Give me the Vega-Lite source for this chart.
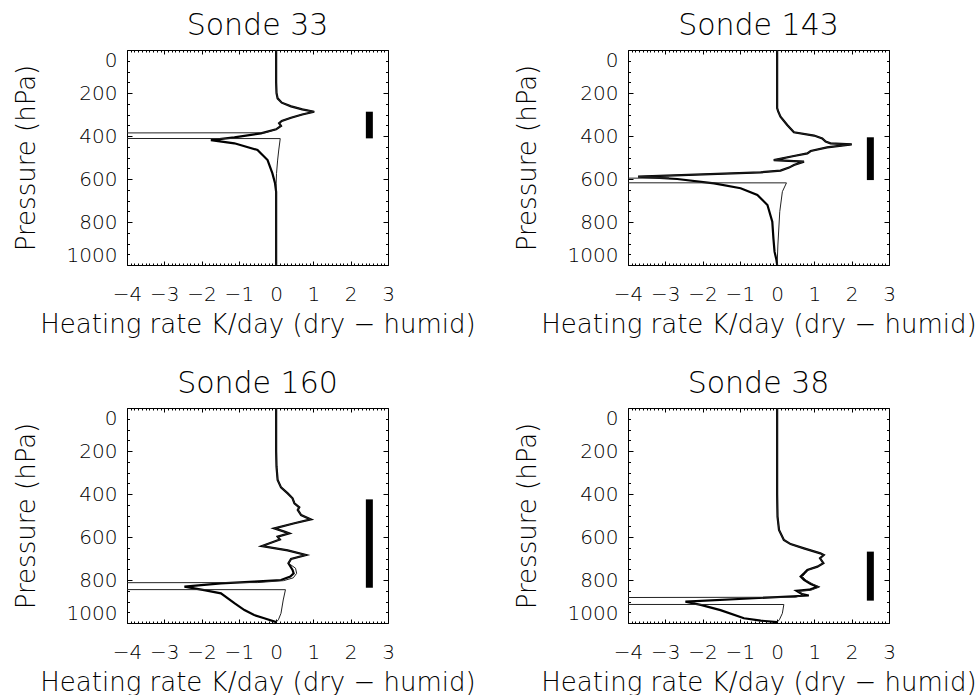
{
  "$schema": "https://vega.github.io/schema/vega-lite/v6.json",
  "background": "white",
  "padding": {"left": 12, "top": 10, "right": 5, "bottom": 2},
  "datasets": {
    "profiles": [
      {"sonde": 33, "kind": "thick", "hr": 0, "p": 0},
      {"sonde": 33, "kind": "thick", "hr": 0, "p": 150},
      {"sonde": 33, "kind": "thick", "hr": 0.01, "p": 200},
      {"sonde": 33, "kind": "thick", "hr": 0.04, "p": 225},
      {"sonde": 33, "kind": "thick", "hr": 0.15, "p": 245},
      {"sonde": 33, "kind": "thick", "hr": 0.4, "p": 262},
      {"sonde": 33, "kind": "thick", "hr": 0.7, "p": 276},
      {"sonde": 33, "kind": "thick", "hr": 1.02, "p": 287},
      {"sonde": 33, "kind": "thick", "hr": 0.7, "p": 300},
      {"sonde": 33, "kind": "thick", "hr": 0.4, "p": 315},
      {"sonde": 33, "kind": "thick", "hr": 0.15, "p": 330},
      {"sonde": 33, "kind": "thick", "hr": 0.08, "p": 340},
      {"sonde": 33, "kind": "thick", "hr": 0.13, "p": 353},
      {"sonde": 33, "kind": "thick", "hr": 0.0, "p": 369},
      {"sonde": 33, "kind": "thick", "hr": -0.41, "p": 388},
      {"sonde": 33, "kind": "thick", "hr": -1.12, "p": 406},
      {"sonde": 33, "kind": "thick", "hr": -1.75, "p": 419},
      {"sonde": 33, "kind": "thick", "hr": -1.12, "p": 434},
      {"sonde": 33, "kind": "thick", "hr": -0.5, "p": 465},
      {"sonde": 33, "kind": "thick", "hr": -0.23, "p": 512},
      {"sonde": 33, "kind": "thick", "hr": -0.1, "p": 574},
      {"sonde": 33, "kind": "thick", "hr": -0.03, "p": 620},
      {"sonde": 33, "kind": "thick", "hr": 0, "p": 660},
      {"sonde": 33, "kind": "thick", "hr": 0, "p": 1000},

      {"sonde": 33, "kind": "thin", "hr": 0, "p": 0},
      {"sonde": 33, "kind": "thin", "hr": 0, "p": 150},
      {"sonde": 33, "kind": "thin", "hr": 0.01, "p": 200},
      {"sonde": 33, "kind": "thin", "hr": 0.04, "p": 225},
      {"sonde": 33, "kind": "thin", "hr": 0.15, "p": 245},
      {"sonde": 33, "kind": "thin", "hr": 0.4, "p": 262},
      {"sonde": 33, "kind": "thin", "hr": 0.7, "p": 276},
      {"sonde": 33, "kind": "thin", "hr": 1.02, "p": 287},
      {"sonde": 33, "kind": "thin", "hr": 0.7, "p": 300},
      {"sonde": 33, "kind": "thin", "hr": 0.4, "p": 315},
      {"sonde": 33, "kind": "thin", "hr": 0.15, "p": 330},
      {"sonde": 33, "kind": "thin", "hr": 0.08, "p": 340},
      {"sonde": 33, "kind": "thin", "hr": 0.13, "p": 353},
      {"sonde": 33, "kind": "thin", "hr": 0.0, "p": 369},
      {"sonde": 33, "kind": "thin", "hr": -0.3, "p": 385},
      {"sonde": 33, "kind": "thin", "hr": -40, "p": 392},
      {"sonde": 33, "kind": "thin", "hr": -40, "p": 408},
      {"sonde": 33, "kind": "thin", "hr": 0.11, "p": 412},
      {"sonde": 33, "kind": "thin", "hr": 0.07, "p": 465},
      {"sonde": 33, "kind": "thin", "hr": 0.04, "p": 512},
      {"sonde": 33, "kind": "thin", "hr": 0.01, "p": 574},
      {"sonde": 33, "kind": "thin", "hr": 0, "p": 620},
      {"sonde": 33, "kind": "thin", "hr": 0, "p": 1000},

      {"sonde": 143, "kind": "thick", "hr": 0, "p": 0},
      {"sonde": 143, "kind": "thick", "hr": 0, "p": 270},
      {"sonde": 143, "kind": "thick", "hr": 0.03, "p": 287},
      {"sonde": 143, "kind": "thick", "hr": 0.09, "p": 310},
      {"sonde": 143, "kind": "thick", "hr": 0.27, "p": 349},
      {"sonde": 143, "kind": "thick", "hr": 0.45, "p": 383},
      {"sonde": 143, "kind": "thick", "hr": 0.99, "p": 398},
      {"sonde": 143, "kind": "thick", "hr": 1.21, "p": 411},
      {"sonde": 143, "kind": "thick", "hr": 1.3, "p": 426},
      {"sonde": 143, "kind": "thick", "hr": 1.43, "p": 434},
      {"sonde": 143, "kind": "thick", "hr": 2.0, "p": 439},
      {"sonde": 143, "kind": "thick", "hr": 1.34, "p": 453},
      {"sonde": 143, "kind": "thick", "hr": 0.9, "p": 470},
      {"sonde": 143, "kind": "thick", "hr": 0.81, "p": 481},
      {"sonde": 143, "kind": "thick", "hr": 0.45, "p": 493},
      {"sonde": 143, "kind": "thick", "hr": -0.09, "p": 512},
      {"sonde": 143, "kind": "thick", "hr": 0.72, "p": 519},
      {"sonde": 143, "kind": "thick", "hr": 0.45, "p": 535},
      {"sonde": 143, "kind": "thick", "hr": 0.32, "p": 547},
      {"sonde": 143, "kind": "thick", "hr": 0.09, "p": 561},
      {"sonde": 143, "kind": "thick", "hr": -0.44, "p": 569},
      {"sonde": 143, "kind": "thick", "hr": -3.73, "p": 589},
      {"sonde": 143, "kind": "thick", "hr": -2.68, "p": 600},
      {"sonde": 143, "kind": "thick", "hr": -1.69, "p": 620},
      {"sonde": 143, "kind": "thick", "hr": -0.98, "p": 643},
      {"sonde": 143, "kind": "thick", "hr": -0.53, "p": 674},
      {"sonde": 143, "kind": "thick", "hr": -0.26, "p": 721},
      {"sonde": 143, "kind": "thick", "hr": -0.13, "p": 798},
      {"sonde": 143, "kind": "thick", "hr": -0.1, "p": 876},
      {"sonde": 143, "kind": "thick", "hr": -0.07, "p": 938},
      {"sonde": 143, "kind": "thick", "hr": -0.02, "p": 975},
      {"sonde": 143, "kind": "thick", "hr": 0, "p": 1000},

      {"sonde": 143, "kind": "thin", "hr": 0, "p": 0},
      {"sonde": 143, "kind": "thin", "hr": 0, "p": 270},
      {"sonde": 143, "kind": "thin", "hr": 0.03, "p": 287},
      {"sonde": 143, "kind": "thin", "hr": 0.09, "p": 310},
      {"sonde": 143, "kind": "thin", "hr": 0.27, "p": 349},
      {"sonde": 143, "kind": "thin", "hr": 0.45, "p": 383},
      {"sonde": 143, "kind": "thin", "hr": 0.99, "p": 398},
      {"sonde": 143, "kind": "thin", "hr": 1.21, "p": 411},
      {"sonde": 143, "kind": "thin", "hr": 1.3, "p": 426},
      {"sonde": 143, "kind": "thin", "hr": 1.43, "p": 434},
      {"sonde": 143, "kind": "thin", "hr": 2.0, "p": 439},
      {"sonde": 143, "kind": "thin", "hr": 1.34, "p": 453},
      {"sonde": 143, "kind": "thin", "hr": 0.9, "p": 470},
      {"sonde": 143, "kind": "thin", "hr": 0.81, "p": 481},
      {"sonde": 143, "kind": "thin", "hr": 0.45, "p": 493},
      {"sonde": 143, "kind": "thin", "hr": -0.09, "p": 512},
      {"sonde": 143, "kind": "thin", "hr": 0.72, "p": 519},
      {"sonde": 143, "kind": "thin", "hr": 0.45, "p": 535},
      {"sonde": 143, "kind": "thin", "hr": 0.32, "p": 547},
      {"sonde": 143, "kind": "thin", "hr": 0.09, "p": 561},
      {"sonde": 143, "kind": "thin", "hr": -0.44, "p": 569},
      {"sonde": 143, "kind": "thin", "hr": -3.73, "p": 589},
      {"sonde": 143, "kind": "thin", "hr": -2.9, "p": 596},
      {"sonde": 143, "kind": "thin", "hr": -40, "p": 598},
      {"sonde": 143, "kind": "thin", "hr": -40, "p": 615},
      {"sonde": 143, "kind": "thin", "hr": 0.25, "p": 618},
      {"sonde": 143, "kind": "thin", "hr": 0.14, "p": 659},
      {"sonde": 143, "kind": "thin", "hr": 0.07, "p": 752},
      {"sonde": 143, "kind": "thin", "hr": 0.02, "p": 907},
      {"sonde": 143, "kind": "thin", "hr": 0, "p": 1000},

      {"sonde": 160, "kind": "thick", "hr": 0, "p": 0},
      {"sonde": 160, "kind": "thick", "hr": 0, "p": 200},
      {"sonde": 160, "kind": "thick", "hr": 0.01, "p": 273},
      {"sonde": 160, "kind": "thick", "hr": 0.04, "p": 335},
      {"sonde": 160, "kind": "thick", "hr": 0.13, "p": 369},
      {"sonde": 160, "kind": "thick", "hr": 0.31, "p": 397},
      {"sonde": 160, "kind": "thick", "hr": 0.44, "p": 420},
      {"sonde": 160, "kind": "thick", "hr": 0.49, "p": 443},
      {"sonde": 160, "kind": "thick", "hr": 0.62, "p": 462},
      {"sonde": 160, "kind": "thick", "hr": 0.58, "p": 474},
      {"sonde": 160, "kind": "thick", "hr": 0.67, "p": 498},
      {"sonde": 160, "kind": "thick", "hr": 0.93, "p": 518},
      {"sonde": 160, "kind": "thick", "hr": 0.49, "p": 536},
      {"sonde": 160, "kind": "thick", "hr": -0.05, "p": 560},
      {"sonde": 160, "kind": "thick", "hr": 0.22, "p": 575},
      {"sonde": 160, "kind": "thick", "hr": 0.35, "p": 583},
      {"sonde": 160, "kind": "thick", "hr": 0.04, "p": 598},
      {"sonde": 160, "kind": "thick", "hr": 0.1, "p": 612},
      {"sonde": 160, "kind": "thick", "hr": -0.38, "p": 642},
      {"sonde": 160, "kind": "thick", "hr": 0.31, "p": 662},
      {"sonde": 160, "kind": "thick", "hr": 0.8, "p": 684},
      {"sonde": 160, "kind": "thick", "hr": 0.4, "p": 702},
      {"sonde": 160, "kind": "thick", "hr": 0.33, "p": 722},
      {"sonde": 160, "kind": "thick", "hr": 0.44, "p": 753},
      {"sonde": 160, "kind": "thick", "hr": 0.47, "p": 769},
      {"sonde": 160, "kind": "thick", "hr": 0.38, "p": 784},
      {"sonde": 160, "kind": "thick", "hr": 0.13, "p": 800},
      {"sonde": 160, "kind": "thick", "hr": -0.59, "p": 808},
      {"sonde": 160, "kind": "thick", "hr": -1.48, "p": 816},
      {"sonde": 160, "kind": "thick", "hr": -2.46, "p": 831},
      {"sonde": 160, "kind": "thick", "hr": -1.93, "p": 847},
      {"sonde": 160, "kind": "thick", "hr": -1.48, "p": 862},
      {"sonde": 160, "kind": "thick", "hr": -1.12, "p": 908},
      {"sonde": 160, "kind": "thick", "hr": -0.85, "p": 940},
      {"sonde": 160, "kind": "thick", "hr": -0.59, "p": 963},
      {"sonde": 160, "kind": "thick", "hr": -0.32, "p": 978},
      {"sonde": 160, "kind": "thick", "hr": 0, "p": 996},

      {"sonde": 160, "kind": "thin", "hr": 0, "p": 0},
      {"sonde": 160, "kind": "thin", "hr": 0, "p": 200},
      {"sonde": 160, "kind": "thin", "hr": 0.01, "p": 273},
      {"sonde": 160, "kind": "thin", "hr": 0.04, "p": 335},
      {"sonde": 160, "kind": "thin", "hr": 0.13, "p": 369},
      {"sonde": 160, "kind": "thin", "hr": 0.31, "p": 397},
      {"sonde": 160, "kind": "thin", "hr": 0.44, "p": 420},
      {"sonde": 160, "kind": "thin", "hr": 0.49, "p": 443},
      {"sonde": 160, "kind": "thin", "hr": 0.62, "p": 462},
      {"sonde": 160, "kind": "thin", "hr": 0.58, "p": 474},
      {"sonde": 160, "kind": "thin", "hr": 0.67, "p": 498},
      {"sonde": 160, "kind": "thin", "hr": 0.93, "p": 518},
      {"sonde": 160, "kind": "thin", "hr": 0.49, "p": 536},
      {"sonde": 160, "kind": "thin", "hr": -0.05, "p": 560},
      {"sonde": 160, "kind": "thin", "hr": 0.22, "p": 575},
      {"sonde": 160, "kind": "thin", "hr": 0.35, "p": 583},
      {"sonde": 160, "kind": "thin", "hr": 0.04, "p": 598},
      {"sonde": 160, "kind": "thin", "hr": 0.1, "p": 612},
      {"sonde": 160, "kind": "thin", "hr": -0.38, "p": 642},
      {"sonde": 160, "kind": "thin", "hr": 0.31, "p": 662},
      {"sonde": 160, "kind": "thin", "hr": 0.8, "p": 684},
      {"sonde": 160, "kind": "thin", "hr": 0.4, "p": 702},
      {"sonde": 160, "kind": "thin", "hr": 0.33, "p": 722},
      {"sonde": 160, "kind": "thin", "hr": 0.52, "p": 745},
      {"sonde": 160, "kind": "thin", "hr": 0.55, "p": 769},
      {"sonde": 160, "kind": "thin", "hr": 0.46, "p": 790},
      {"sonde": 160, "kind": "thin", "hr": 0.2, "p": 803},
      {"sonde": 160, "kind": "thin", "hr": -0.5, "p": 812},
      {"sonde": 160, "kind": "thin", "hr": -40, "p": 818},
      {"sonde": 160, "kind": "thin", "hr": -40, "p": 842},
      {"sonde": 160, "kind": "thin", "hr": 0.25, "p": 845},
      {"sonde": 160, "kind": "thin", "hr": 0.19, "p": 893},
      {"sonde": 160, "kind": "thin", "hr": 0.13, "p": 955},
      {"sonde": 160, "kind": "thin", "hr": 0.06, "p": 985},
      {"sonde": 160, "kind": "thin", "hr": 0, "p": 996},

      {"sonde": 38, "kind": "thick", "hr": 0, "p": 0},
      {"sonde": 38, "kind": "thick", "hr": 0, "p": 400},
      {"sonde": 38, "kind": "thick", "hr": 0.01, "p": 505},
      {"sonde": 38, "kind": "thick", "hr": 0.05, "p": 567},
      {"sonde": 38, "kind": "thick", "hr": 0.18, "p": 614},
      {"sonde": 38, "kind": "thick", "hr": 0.36, "p": 633},
      {"sonde": 38, "kind": "thick", "hr": 0.72, "p": 653},
      {"sonde": 38, "kind": "thick", "hr": 1.16, "p": 676},
      {"sonde": 38, "kind": "thick", "hr": 1.25, "p": 684},
      {"sonde": 38, "kind": "thick", "hr": 1.15, "p": 699},
      {"sonde": 38, "kind": "thick", "hr": 1.24, "p": 722},
      {"sonde": 38, "kind": "thick", "hr": 1.08, "p": 738},
      {"sonde": 38, "kind": "thick", "hr": 0.81, "p": 753},
      {"sonde": 38, "kind": "thick", "hr": 0.72, "p": 769},
      {"sonde": 38, "kind": "thick", "hr": 0.63, "p": 784},
      {"sonde": 38, "kind": "thick", "hr": 0.72, "p": 800},
      {"sonde": 38, "kind": "thick", "hr": 0.9, "p": 819},
      {"sonde": 38, "kind": "thick", "hr": 1.08, "p": 831},
      {"sonde": 38, "kind": "thick", "hr": 0.86, "p": 845},
      {"sonde": 38, "kind": "thick", "hr": 0.52, "p": 850},
      {"sonde": 38, "kind": "thick", "hr": 0.67, "p": 866},
      {"sonde": 38, "kind": "thick", "hr": 0.85, "p": 872},
      {"sonde": 38, "kind": "thick", "hr": -2.46, "p": 901},
      {"sonde": 38, "kind": "thick", "hr": -2.05, "p": 916},
      {"sonde": 38, "kind": "thick", "hr": -1.52, "p": 940},
      {"sonde": 38, "kind": "thick", "hr": -0.89, "p": 978},
      {"sonde": 38, "kind": "thick", "hr": -0.44, "p": 989},
      {"sonde": 38, "kind": "thick", "hr": 0, "p": 996},

      {"sonde": 38, "kind": "thin", "hr": 0, "p": 0},
      {"sonde": 38, "kind": "thin", "hr": 0, "p": 400},
      {"sonde": 38, "kind": "thin", "hr": 0.01, "p": 505},
      {"sonde": 38, "kind": "thin", "hr": 0.05, "p": 567},
      {"sonde": 38, "kind": "thin", "hr": 0.18, "p": 614},
      {"sonde": 38, "kind": "thin", "hr": 0.36, "p": 633},
      {"sonde": 38, "kind": "thin", "hr": 0.72, "p": 653},
      {"sonde": 38, "kind": "thin", "hr": 1.16, "p": 676},
      {"sonde": 38, "kind": "thin", "hr": 1.25, "p": 684},
      {"sonde": 38, "kind": "thin", "hr": 1.15, "p": 699},
      {"sonde": 38, "kind": "thin", "hr": 1.24, "p": 722},
      {"sonde": 38, "kind": "thin", "hr": 1.08, "p": 738},
      {"sonde": 38, "kind": "thin", "hr": 0.84, "p": 753},
      {"sonde": 38, "kind": "thin", "hr": 0.76, "p": 769},
      {"sonde": 38, "kind": "thin", "hr": 0.68, "p": 784},
      {"sonde": 38, "kind": "thin", "hr": 0.77, "p": 800},
      {"sonde": 38, "kind": "thin", "hr": 0.96, "p": 819},
      {"sonde": 38, "kind": "thin", "hr": 1.13, "p": 833},
      {"sonde": 38, "kind": "thin", "hr": 0.9, "p": 848},
      {"sonde": 38, "kind": "thin", "hr": 0.56, "p": 853},
      {"sonde": 38, "kind": "thin", "hr": 0.72, "p": 868},
      {"sonde": 38, "kind": "thin", "hr": 0.5, "p": 880},
      {"sonde": 38, "kind": "thin", "hr": -40, "p": 893},
      {"sonde": 38, "kind": "thin", "hr": -40, "p": 912},
      {"sonde": 38, "kind": "thin", "hr": 0.18, "p": 914},
      {"sonde": 38, "kind": "thin", "hr": 0.14, "p": 955},
      {"sonde": 38, "kind": "thin", "hr": 0.06, "p": 985},
      {"sonde": 38, "kind": "thin", "hr": 0, "p": 996}
    ],
    "clouds": [
      {"sonde": 33, "hr": 2.5, "p_top": 287, "p_bot": 411},
      {"sonde": 143, "hr": 2.5, "p_top": 406, "p_bot": 605},
      {"sonde": 160, "hr": 2.5, "p_top": 425, "p_bot": 836},
      {"sonde": 38, "hr": 2.5, "p_top": 668, "p_bot": 896}
    ]
  },
  "columns": 2,
  "spacing": {"row": 143, "column": 240},
  "bounds": "flush",
  "concat": [
    {
      "title": {"text": "Sonde 33"},
      "width": 261, "height": 215,
      "resolve": {"axis": {"x": "independent", "y": "independent"}},
      "layer": [
        {
          "data": {"name": "profiles"},
          "transform": [{"filter": "datum.sonde == 33 && datum.kind == 'thick'"}],
          "mark": {"type": "line", "stroke": "black", "strokeWidth": 2.2, "clip": true},
          "encoding": {
            "x": {"field": "hr", "type": "quantitative", "scale": {"domain": [-4, 3], "nice": false, "zero": false},
              "axis": {"orient": "bottom", "title": "Heating rate K/day (dry \u2212 humid)", "format": "d", "labelFlush": false, "labelOverlap": false,
                "values": [-4, -3, -2, -1, 0, 1, 2, 3], "tickSize": -4, "labelPadding": 23, "titlePadding": 7}},
            "y": {"field": "p", "type": "quantitative", "scale": {"domain": [0, 1000], "reverse": true, "nice": false, "zero": false},
              "axis": {"orient": "left", "title": "Pressure (hPa)", "format": "d", "labelFlush": true, "labelOverlap": false,
                "values": [0,50,100,150,200,250,300,350,400,450,500,550,600,650,700,750,800,850,900,950,1000],
                "labelExpr": "datum.value % 200 === 0 ? datum.label : ''",
                "tickSize": {"condition": {"test": "datum.value % 200 === 0", "value": -5}, "value": -2.5},
                "labelPadding": 15, "titlePadding": 27}},
            "order": {"field": "p", "type": "quantitative"}
          }
        },
        {
          "data": {"name": "profiles"},
          "transform": [{"filter": "datum.sonde == 33 && datum.kind == 'thin'"}],
          "mark": {"type": "line", "stroke": "#222222", "strokeWidth": 1, "clip": true},
          "encoding": {
            "x": {"field": "hr", "type": "quantitative", "scale": {"domain": [-4, 3], "nice": false, "zero": false},
              "axis": {"orient": "top", "title": null, "labels": false,
                "values": [-4,-3.9,-3.8,-3.7,-3.6,-3.5,-3.4,-3.3,-3.2,-3.1,-3,-2.9,-2.8,-2.7,-2.6,-2.5,-2.4,-2.3,-2.2,-2.1,-2,-1.9,-1.8,-1.7,-1.6,-1.5,-1.4,-1.3,-1.2,-1.1,-1,-0.9,-0.8,-0.7,-0.6,-0.5,-0.4,-0.3,-0.2,-0.1,0,0.1,0.2,0.3,0.4,0.5,0.6,0.7,0.8,0.9,1,1.1,1.2,1.3,1.4,1.5,1.6,1.7,1.8,1.9,2,2.1,2.2,2.3,2.4,2.5,2.6,2.7,2.8,2.9,3],
                "tickSize": {"condition": {"test": "datum.value % 1 === 0", "value": -4}, "value": -2}}},
            "y": {"field": "p", "type": "quantitative", "scale": {"domain": [0, 1000], "reverse": true, "nice": false, "zero": false},
              "axis": {"orient": "right", "title": null, "labels": false,
                "values": [0,50,100,150,200,250,300,350,400,450,500,550,600,650,700,750,800,850,900,950,1000],
                "tickSize": {"condition": {"test": "datum.value % 200 === 0", "value": -5}, "value": -2.5}}},
            "order": {"field": "p", "type": "quantitative"}
          }
        },
        {
          "data": {"name": "clouds"},
          "transform": [{"filter": "datum.sonde == 33"}],
          "mark": {"type": "rule", "stroke": "black", "strokeWidth": 7, "strokeCap": "butt"},
          "encoding": {
            "x": {"field": "hr", "type": "quantitative",
              "axis": {"orient": "bottom", "title": null, "labels": false, "tickSize": -2,
                "values": [-3.9,-3.8,-3.7,-3.6,-3.5,-3.4,-3.3,-3.2,-3.1,-2.9,-2.8,-2.7,-2.6,-2.5,-2.4,-2.3,-2.2,-2.1,-1.9,-1.8,-1.7,-1.6,-1.5,-1.4,-1.3,-1.2,-1.1,-0.9,-0.8,-0.7,-0.6,-0.5,-0.4,-0.3,-0.2,-0.1,0.1,0.2,0.3,0.4,0.5,0.6,0.7,0.8,0.9,1.1,1.2,1.3,1.4,1.5,1.6,1.7,1.8,1.9,2.1,2.2,2.3,2.4,2.5,2.6,2.7,2.8,2.9]}},
            "y": {"field": "p_top", "type": "quantitative", "axis": null},
            "y2": {"field": "p_bot"}
          }
        }
      ]
    },
    {
      "title": {"text": "Sonde 143"},
      "width": 261, "height": 215,
      "resolve": {"axis": {"x": "independent", "y": "independent"}},
      "layer": [
        {
          "data": {"name": "profiles"},
          "transform": [{"filter": "datum.sonde == 143 && datum.kind == 'thick'"}],
          "mark": {"type": "line", "stroke": "black", "strokeWidth": 2.2, "clip": true},
          "encoding": {
            "x": {"field": "hr", "type": "quantitative", "scale": {"domain": [-4, 3], "nice": false, "zero": false},
              "axis": {"orient": "bottom", "title": "Heating rate K/day (dry \u2212 humid)", "format": "d", "labelFlush": false, "labelOverlap": false,
                "values": [-4, -3, -2, -1, 0, 1, 2, 3], "tickSize": -4, "labelPadding": 23, "titlePadding": 7}},
            "y": {"field": "p", "type": "quantitative", "scale": {"domain": [0, 1000], "reverse": true, "nice": false, "zero": false},
              "axis": {"orient": "left", "title": "Pressure (hPa)", "format": "d", "labelFlush": true, "labelOverlap": false,
                "values": [0,50,100,150,200,250,300,350,400,450,500,550,600,650,700,750,800,850,900,950,1000],
                "labelExpr": "datum.value % 200 === 0 ? datum.label : ''",
                "tickSize": {"condition": {"test": "datum.value % 200 === 0", "value": -5}, "value": -2.5},
                "labelPadding": 15, "titlePadding": 27}},
            "order": {"field": "p", "type": "quantitative"}
          }
        },
        {
          "data": {"name": "profiles"},
          "transform": [{"filter": "datum.sonde == 143 && datum.kind == 'thin'"}],
          "mark": {"type": "line", "stroke": "#222222", "strokeWidth": 1, "clip": true},
          "encoding": {
            "x": {"field": "hr", "type": "quantitative", "scale": {"domain": [-4, 3], "nice": false, "zero": false},
              "axis": {"orient": "top", "title": null, "labels": false,
                "values": [-4,-3.9,-3.8,-3.7,-3.6,-3.5,-3.4,-3.3,-3.2,-3.1,-3,-2.9,-2.8,-2.7,-2.6,-2.5,-2.4,-2.3,-2.2,-2.1,-2,-1.9,-1.8,-1.7,-1.6,-1.5,-1.4,-1.3,-1.2,-1.1,-1,-0.9,-0.8,-0.7,-0.6,-0.5,-0.4,-0.3,-0.2,-0.1,0,0.1,0.2,0.3,0.4,0.5,0.6,0.7,0.8,0.9,1,1.1,1.2,1.3,1.4,1.5,1.6,1.7,1.8,1.9,2,2.1,2.2,2.3,2.4,2.5,2.6,2.7,2.8,2.9,3],
                "tickSize": {"condition": {"test": "datum.value % 1 === 0", "value": -4}, "value": -2}}},
            "y": {"field": "p", "type": "quantitative", "scale": {"domain": [0, 1000], "reverse": true, "nice": false, "zero": false},
              "axis": {"orient": "right", "title": null, "labels": false,
                "values": [0,50,100,150,200,250,300,350,400,450,500,550,600,650,700,750,800,850,900,950,1000],
                "tickSize": {"condition": {"test": "datum.value % 200 === 0", "value": -5}, "value": -2.5}}},
            "order": {"field": "p", "type": "quantitative"}
          }
        },
        {
          "data": {"name": "clouds"},
          "transform": [{"filter": "datum.sonde == 143"}],
          "mark": {"type": "rule", "stroke": "black", "strokeWidth": 7, "strokeCap": "butt"},
          "encoding": {
            "x": {"field": "hr", "type": "quantitative",
              "axis": {"orient": "bottom", "title": null, "labels": false, "tickSize": -2,
                "values": [-3.9,-3.8,-3.7,-3.6,-3.5,-3.4,-3.3,-3.2,-3.1,-2.9,-2.8,-2.7,-2.6,-2.5,-2.4,-2.3,-2.2,-2.1,-1.9,-1.8,-1.7,-1.6,-1.5,-1.4,-1.3,-1.2,-1.1,-0.9,-0.8,-0.7,-0.6,-0.5,-0.4,-0.3,-0.2,-0.1,0.1,0.2,0.3,0.4,0.5,0.6,0.7,0.8,0.9,1.1,1.2,1.3,1.4,1.5,1.6,1.7,1.8,1.9,2.1,2.2,2.3,2.4,2.5,2.6,2.7,2.8,2.9]}},
            "y": {"field": "p_top", "type": "quantitative", "axis": null},
            "y2": {"field": "p_bot"}
          }
        }
      ]
    },
    {
      "title": {"text": "Sonde 160"},
      "width": 261, "height": 215,
      "resolve": {"axis": {"x": "independent", "y": "independent"}},
      "layer": [
        {
          "data": {"name": "profiles"},
          "transform": [{"filter": "datum.sonde == 160 && datum.kind == 'thick'"}],
          "mark": {"type": "line", "stroke": "black", "strokeWidth": 2.2, "clip": true},
          "encoding": {
            "x": {"field": "hr", "type": "quantitative", "scale": {"domain": [-4, 3], "nice": false, "zero": false},
              "axis": {"orient": "bottom", "title": "Heating rate K/day (dry \u2212 humid)", "format": "d", "labelFlush": false, "labelOverlap": false,
                "values": [-4, -3, -2, -1, 0, 1, 2, 3], "tickSize": -4, "labelPadding": 23, "titlePadding": 7}},
            "y": {"field": "p", "type": "quantitative", "scale": {"domain": [0, 1000], "reverse": true, "nice": false, "zero": false},
              "axis": {"orient": "left", "title": "Pressure (hPa)", "format": "d", "labelFlush": true, "labelOverlap": false,
                "values": [0,50,100,150,200,250,300,350,400,450,500,550,600,650,700,750,800,850,900,950,1000],
                "labelExpr": "datum.value % 200 === 0 ? datum.label : ''",
                "tickSize": {"condition": {"test": "datum.value % 200 === 0", "value": -5}, "value": -2.5},
                "labelPadding": 15, "titlePadding": 27}},
            "order": {"field": "p", "type": "quantitative"}
          }
        },
        {
          "data": {"name": "profiles"},
          "transform": [{"filter": "datum.sonde == 160 && datum.kind == 'thin'"}],
          "mark": {"type": "line", "stroke": "#222222", "strokeWidth": 1, "clip": true},
          "encoding": {
            "x": {"field": "hr", "type": "quantitative", "scale": {"domain": [-4, 3], "nice": false, "zero": false},
              "axis": {"orient": "top", "title": null, "labels": false,
                "values": [-4,-3.9,-3.8,-3.7,-3.6,-3.5,-3.4,-3.3,-3.2,-3.1,-3,-2.9,-2.8,-2.7,-2.6,-2.5,-2.4,-2.3,-2.2,-2.1,-2,-1.9,-1.8,-1.7,-1.6,-1.5,-1.4,-1.3,-1.2,-1.1,-1,-0.9,-0.8,-0.7,-0.6,-0.5,-0.4,-0.3,-0.2,-0.1,0,0.1,0.2,0.3,0.4,0.5,0.6,0.7,0.8,0.9,1,1.1,1.2,1.3,1.4,1.5,1.6,1.7,1.8,1.9,2,2.1,2.2,2.3,2.4,2.5,2.6,2.7,2.8,2.9,3],
                "tickSize": {"condition": {"test": "datum.value % 1 === 0", "value": -4}, "value": -2}}},
            "y": {"field": "p", "type": "quantitative", "scale": {"domain": [0, 1000], "reverse": true, "nice": false, "zero": false},
              "axis": {"orient": "right", "title": null, "labels": false,
                "values": [0,50,100,150,200,250,300,350,400,450,500,550,600,650,700,750,800,850,900,950,1000],
                "tickSize": {"condition": {"test": "datum.value % 200 === 0", "value": -5}, "value": -2.5}}},
            "order": {"field": "p", "type": "quantitative"}
          }
        },
        {
          "data": {"name": "clouds"},
          "transform": [{"filter": "datum.sonde == 160"}],
          "mark": {"type": "rule", "stroke": "black", "strokeWidth": 7, "strokeCap": "butt"},
          "encoding": {
            "x": {"field": "hr", "type": "quantitative",
              "axis": {"orient": "bottom", "title": null, "labels": false, "tickSize": -2,
                "values": [-3.9,-3.8,-3.7,-3.6,-3.5,-3.4,-3.3,-3.2,-3.1,-2.9,-2.8,-2.7,-2.6,-2.5,-2.4,-2.3,-2.2,-2.1,-1.9,-1.8,-1.7,-1.6,-1.5,-1.4,-1.3,-1.2,-1.1,-0.9,-0.8,-0.7,-0.6,-0.5,-0.4,-0.3,-0.2,-0.1,0.1,0.2,0.3,0.4,0.5,0.6,0.7,0.8,0.9,1.1,1.2,1.3,1.4,1.5,1.6,1.7,1.8,1.9,2.1,2.2,2.3,2.4,2.5,2.6,2.7,2.8,2.9]}},
            "y": {"field": "p_top", "type": "quantitative", "axis": null},
            "y2": {"field": "p_bot"}
          }
        }
      ]
    },
    {
      "title": {"text": "Sonde 38"},
      "width": 261, "height": 215,
      "resolve": {"axis": {"x": "independent", "y": "independent"}},
      "layer": [
        {
          "data": {"name": "profiles"},
          "transform": [{"filter": "datum.sonde == 38 && datum.kind == 'thick'"}],
          "mark": {"type": "line", "stroke": "black", "strokeWidth": 2.2, "clip": true},
          "encoding": {
            "x": {"field": "hr", "type": "quantitative", "scale": {"domain": [-4, 3], "nice": false, "zero": false},
              "axis": {"orient": "bottom", "title": "Heating rate K/day (dry \u2212 humid)", "format": "d", "labelFlush": false, "labelOverlap": false,
                "values": [-4, -3, -2, -1, 0, 1, 2, 3], "tickSize": -4, "labelPadding": 23, "titlePadding": 7}},
            "y": {"field": "p", "type": "quantitative", "scale": {"domain": [0, 1000], "reverse": true, "nice": false, "zero": false},
              "axis": {"orient": "left", "title": "Pressure (hPa)", "format": "d", "labelFlush": true, "labelOverlap": false,
                "values": [0,50,100,150,200,250,300,350,400,450,500,550,600,650,700,750,800,850,900,950,1000],
                "labelExpr": "datum.value % 200 === 0 ? datum.label : ''",
                "tickSize": {"condition": {"test": "datum.value % 200 === 0", "value": -5}, "value": -2.5},
                "labelPadding": 15, "titlePadding": 27}},
            "order": {"field": "p", "type": "quantitative"}
          }
        },
        {
          "data": {"name": "profiles"},
          "transform": [{"filter": "datum.sonde == 38 && datum.kind == 'thin'"}],
          "mark": {"type": "line", "stroke": "#222222", "strokeWidth": 1, "clip": true},
          "encoding": {
            "x": {"field": "hr", "type": "quantitative", "scale": {"domain": [-4, 3], "nice": false, "zero": false},
              "axis": {"orient": "top", "title": null, "labels": false,
                "values": [-4,-3.9,-3.8,-3.7,-3.6,-3.5,-3.4,-3.3,-3.2,-3.1,-3,-2.9,-2.8,-2.7,-2.6,-2.5,-2.4,-2.3,-2.2,-2.1,-2,-1.9,-1.8,-1.7,-1.6,-1.5,-1.4,-1.3,-1.2,-1.1,-1,-0.9,-0.8,-0.7,-0.6,-0.5,-0.4,-0.3,-0.2,-0.1,0,0.1,0.2,0.3,0.4,0.5,0.6,0.7,0.8,0.9,1,1.1,1.2,1.3,1.4,1.5,1.6,1.7,1.8,1.9,2,2.1,2.2,2.3,2.4,2.5,2.6,2.7,2.8,2.9,3],
                "tickSize": {"condition": {"test": "datum.value % 1 === 0", "value": -4}, "value": -2}}},
            "y": {"field": "p", "type": "quantitative", "scale": {"domain": [0, 1000], "reverse": true, "nice": false, "zero": false},
              "axis": {"orient": "right", "title": null, "labels": false,
                "values": [0,50,100,150,200,250,300,350,400,450,500,550,600,650,700,750,800,850,900,950,1000],
                "tickSize": {"condition": {"test": "datum.value % 200 === 0", "value": -5}, "value": -2.5}}},
            "order": {"field": "p", "type": "quantitative"}
          }
        },
        {
          "data": {"name": "clouds"},
          "transform": [{"filter": "datum.sonde == 38"}],
          "mark": {"type": "rule", "stroke": "black", "strokeWidth": 7, "strokeCap": "butt"},
          "encoding": {
            "x": {"field": "hr", "type": "quantitative",
              "axis": {"orient": "bottom", "title": null, "labels": false, "tickSize": -2,
                "values": [-3.9,-3.8,-3.7,-3.6,-3.5,-3.4,-3.3,-3.2,-3.1,-2.9,-2.8,-2.7,-2.6,-2.5,-2.4,-2.3,-2.2,-2.1,-1.9,-1.8,-1.7,-1.6,-1.5,-1.4,-1.3,-1.2,-1.1,-0.9,-0.8,-0.7,-0.6,-0.5,-0.4,-0.3,-0.2,-0.1,0.1,0.2,0.3,0.4,0.5,0.6,0.7,0.8,0.9,1.1,1.2,1.3,1.4,1.5,1.6,1.7,1.8,1.9,2.1,2.2,2.3,2.4,2.5,2.6,2.7,2.8,2.9]}},
            "y": {"field": "p_top", "type": "quantitative", "axis": null},
            "y2": {"field": "p_bot"}
          }
        }
      ]
    }
  ],
  "config": {
    "view": {"stroke": "black", "strokeWidth": 1},
    "axis": {
      "domain": false, "grid": false,
      "tickColor": "black", "tickWidth": 1,
      "labelColor": "black", "titleColor": "black",
      "labelFont": "DejaVu Sans", "titleFont": "DejaVu Sans",
      "labelFontSize": 20, "titleFontSize": 26,
      "labelFontWeight": 200, "titleFontWeight": 200
    },
    "title": {"font": "DejaVu Sans", "fontSize": 30, "fontWeight": 200, "color": "black", "frame": "group", "anchor": "middle", "offset": 9}
  }
}
